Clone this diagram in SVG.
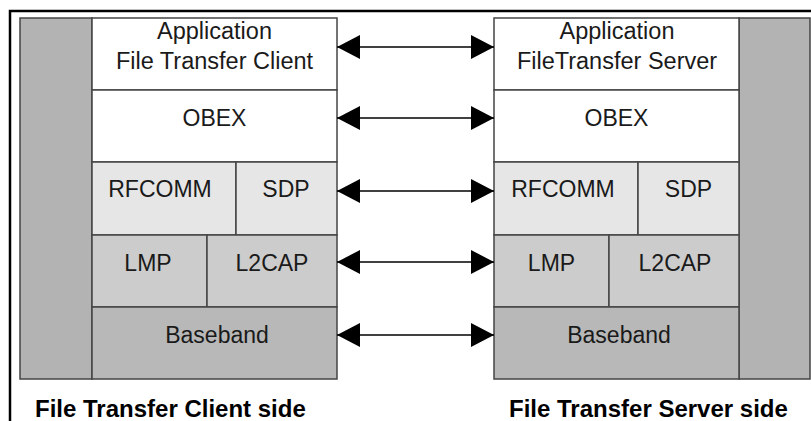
<svg xmlns="http://www.w3.org/2000/svg" width="811" height="421" viewBox="0 0 811 421">
<style>
.t{font-family:"Liberation Sans",Arial,sans-serif;font-size:23px;fill:#1a1a1a;text-anchor:middle}
.a{font-size:23.5px}
.b{font-family:"Liberation Sans",Arial,sans-serif;font-size:24px;font-weight:bold;fill:#000}
.box{stroke:#444;stroke-width:1.5}
.w{fill:#ffffff}
.l1{fill:#e6e6e6}
.l2{fill:#cccccc}
.l3{fill:#b8b8b8}
.bar{fill:#b3b3b3;stroke:#444;stroke-width:1.5}
.c{stroke:#000;stroke-width:1.6;fill:none}
</style>
<defs>
<marker id="ah" viewBox="0 0 23 24" refX="23" refY="12" markerWidth="23" markerHeight="24" markerUnits="userSpaceOnUse" orient="auto-start-reverse">
<path d="M0,0 L23,12 L0,24 Z" fill="#000"/>
</marker>
</defs>
<rect width="811" height="421" fill="#fff"/>
<path d="M10,421 V11 H811" fill="none" stroke="#000" stroke-width="2.5"/>

<g id="client-side">
<rect class="bar" x="20" y="18" width="72" height="361"/>
<g id="client-app"><rect class="box w" x="92" y="18" width="245" height="72"/>
<text class="t a" x="214.5" y="39">Application</text>
<text class="t a" x="214.5" y="69">File Transfer Client</text></g>
<g id="client-obex"><rect class="box w" x="92" y="90" width="245" height="72"/>
<text class="t" x="214.5" y="126">OBEX</text></g>
<g id="client-rfcomm"><rect class="box l1" x="92" y="162" width="144" height="73"/>
<text class="t" x="160" y="197">RFCOMM</text></g>
<g id="client-sdp"><rect class="box l1" x="236" y="162" width="101" height="73"/>
<text class="t" x="286" y="197">SDP</text></g>
<g id="client-lmp"><rect class="box l2" x="92" y="235" width="115" height="72"/>
<text class="t" x="148" y="271">LMP</text></g>
<g id="client-l2cap"><rect class="box l2" x="207" y="235" width="130" height="72"/>
<text class="t" x="272" y="271">L2CAP</text></g>
<g id="client-baseband"><rect class="box l3" x="92" y="307" width="245" height="72"/>
<text class="t" x="217" y="343">Baseband</text></g>
<text class="b" x="35" y="417">File Transfer Client side</text>
</g>

<g id="server-side">
<rect class="bar" x="739" y="18" width="71" height="361"/>
<g id="server-app"><rect class="box w" x="494" y="18" width="245" height="72"/>
<text class="t a" x="617" y="39">Application</text>
<text class="t a" x="617" y="69">FileTransfer Server</text></g>
<g id="server-obex"><rect class="box w" x="494" y="90" width="245" height="72"/>
<text class="t" x="616.5" y="126">OBEX</text></g>
<g id="server-rfcomm"><rect class="box l1" x="494" y="162" width="144" height="73"/>
<text class="t" x="563" y="197">RFCOMM</text></g>
<g id="server-sdp"><rect class="box l1" x="638" y="162" width="101" height="73"/>
<text class="t" x="688.5" y="197">SDP</text></g>
<g id="server-lmp"><rect class="box l2" x="494" y="235" width="115" height="72"/>
<text class="t" x="551.5" y="271">LMP</text></g>
<g id="server-l2cap"><rect class="box l2" x="609" y="235" width="130" height="72"/>
<text class="t" x="675" y="271">L2CAP</text></g>
<g id="server-baseband"><rect class="box l3" x="494" y="307" width="245" height="72"/>
<text class="t" x="619" y="343">Baseband</text></g>
<text class="b" x="509" y="417">File Transfer Server side</text>
</g>

<g id="connectors">
<line class="c" x1="337" y1="47" x2="494" y2="47" marker-start="url(#ah)" marker-end="url(#ah)"/>
<line class="c" x1="337" y1="118" x2="494" y2="118" marker-start="url(#ah)" marker-end="url(#ah)"/>
<line class="c" x1="337" y1="191" x2="494" y2="191" marker-start="url(#ah)" marker-end="url(#ah)"/>
<line class="c" x1="337" y1="262" x2="494" y2="262" marker-start="url(#ah)" marker-end="url(#ah)"/>
<line class="c" x1="337" y1="335" x2="494" y2="335" marker-start="url(#ah)" marker-end="url(#ah)"/>
</g>
</svg>
